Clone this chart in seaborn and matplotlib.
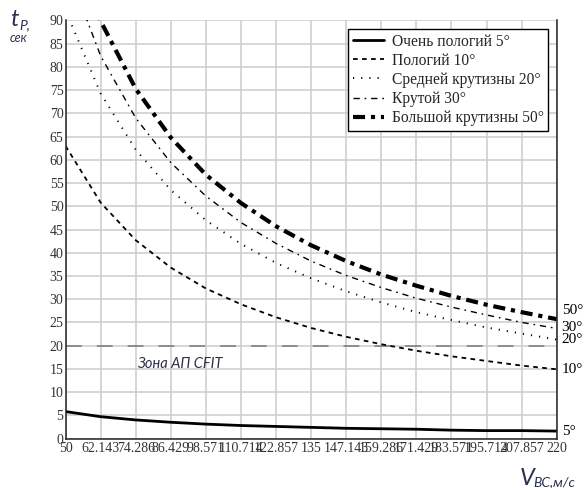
import pandas as pd
import matplotlib
matplotlib.use("Agg")
import matplotlib.pyplot as plt
import seaborn as sns

# Values
speed = [50, 62.143, 74.286, 86.429, 98.571, 110.714, 122.857, 135,
         147.143, 159.286, 171.429, 183.571, 195.714, 207.857, 220]
speed_labels = ["50", "62.143", "74.286", "86.429", "98.571", "110.714", "122.857", "135",
                "147.143", "159.286", "171.429", "183.571", "195.714", "207.857", "220"]

t_5 = [5.8, 4.7, 4.0, 3.5, 3.1, 2.8, 2.6, 2.4, 2.2, 2.1, 2.0, 1.8, 1.7, 1.7, 1.6]
t_10 = [63.0, 50.8, 42.7, 36.8, 32.3, 28.9, 26.1, 23.8, 21.9, 20.3, 18.9, 17.7, 16.7, 15.7, 14.9]
t_20 = [92.2, 74.3, 62.2, 53.5, 47.0, 41.9, 37.8, 34.5, 31.7, 29.3, 27.2, 25.5, 23.9, 22.6, 21.3]
t_30 = [102.2, 82.4, 69.0, 59.4, 52.2, 46.5, 42.0, 38.2, 35.1, 32.5, 30.2, 28.3, 26.6, 25.0, 23.7]
t_50 = [111.7, 89.9, 75.3, 64.8, 56.8, 50.7, 45.7, 41.6, 38.2, 35.3, 32.9, 30.7, 28.8, 27.2, 25.7]

series_names = ["Очень пологий 5°", "Пологий 10°", "Средней крутизны 20°",
                "Крутой 30°", "Большой крутизны 50°"]
end_labels = ["5°", "10°", "20°", "30°", "50°"]
cfit_level = 20

# Long table for seaborn
df = pd.DataFrame({
    "V": speed * 5,
    "t": t_5 + t_10 + t_20 + t_30 + t_50,
    "slope": [n for n in series_names for _ in speed],
})

sns.set_style("whitegrid")
plt.rcParams["font.family"] = ["Liberation Serif", "DejaVu Serif"]
plt.rcParams["axes.edgecolor"] = "black"

fig = plt.figure(figsize=(5.84, 4.88), dpi=100)
ax = fig.add_axes([0.1122, 0.1014, 0.9533 - 0.1122, 0.958 - 0.1014])

# style per curve: (linewidth, linestyle)
styles = {
    "Очень пологий 5°": (2.0, "-"),
    "Пологий 10°": (1.3, (0, (2.6, 2.4))),
    "Средней крутизны 20°": (1.4, (0, (0.6, 3.6))),
    "Крутой 30°": (1.0, (0, (4.5, 3.5, 1.2, 3.5))),
    "Большой крутизны 50°": (3.0, (0, (2.9, 1.4, 1.0, 1.4))),
}

for name in series_names:
    lw, ls = styles[name]
    sns.lineplot(data=df[df["slope"] == name], x="V", y="t", ax=ax,
                 color="black", lw=lw, linestyle=ls, label=name, errorbar=None)

# CFIT zone border
ax.axhline(cfit_level, color="#808080", lw=1.2, linestyle=(0, (9.5, 9)), zorder=1.5)
ax.text(74.6, 16.1, "Зона АП CFIT", fontsize=10.5, style="italic",
        family=["Lato", "DejaVu Sans"], color="#2d3047", va="center", ha="left")

# end labels on the right side
end_pos = [1.5, 14.9, 21.4, 23.9, 27.5]
for lab, y in zip(end_labels, end_pos):
    ax.text(221.7, y, lab, fontsize=11, va="center", ha="left", color="black", clip_on=False)

ax.set_xlim(50, 220)
ax.set_ylim(0, 90)
ax.set_xticks(speed)
ax.set_xticklabels(speed_labels)
ax.set_yticks(range(0, 91, 5))
ax.tick_params(axis="both", length=0, labelsize=10, colors="#333333")
ax.tick_params(axis="x", pad=2.5)
ax.tick_params(axis="y", pad=1.5)
ax.grid(True, color="#cccccc", lw=1.1)
ax.set_xlabel("")
ax.set_ylabel("")

for side in ["left", "bottom", "right"]:
    ax.spines[side].set_visible(True)
    ax.spines[side].set_linewidth(1.1)
    ax.spines[side].set_color("#222222")
ax.spines["top"].set_visible(False)

leg = ax.legend(loc="upper right", bbox_to_anchor=(1, 1), borderaxespad=0.55,
                fontsize=11.2, frameon=True, fancybox=False, framealpha=1,
                edgecolor="black", labelspacing=0.2, handlelength=2.0,
                borderpad=0.3, handletextpad=0.5)
leg.get_frame().set_linewidth(1.0)

# axis captions
cap_font = ["Lato", "DejaVu Sans"]
fig.text(10 / 584, 1 - 26 / 488, "t", fontsize=17, style="italic", family=cap_font, color="#2a3050")
fig.text(19 / 584, 1 - 29 / 488, "Р,", fontsize=10, style="italic", family=cap_font, color="#2a3050")
fig.text(10 / 584, 1 - 42 / 488, "сек", fontsize=9, style="italic", family=cap_font, color="#2a3050")
fig.text(520 / 584, 1 - 485 / 488, "V", fontsize=17, style="italic", family=cap_font, color="#2a3050")
fig.text(533 / 584, 1 - 486 / 488, "ВС,м/с", fontsize=10, style="italic", family=cap_font, color="#2a3050")

fig.savefig("out.png", dpi=100)
plt.close()
